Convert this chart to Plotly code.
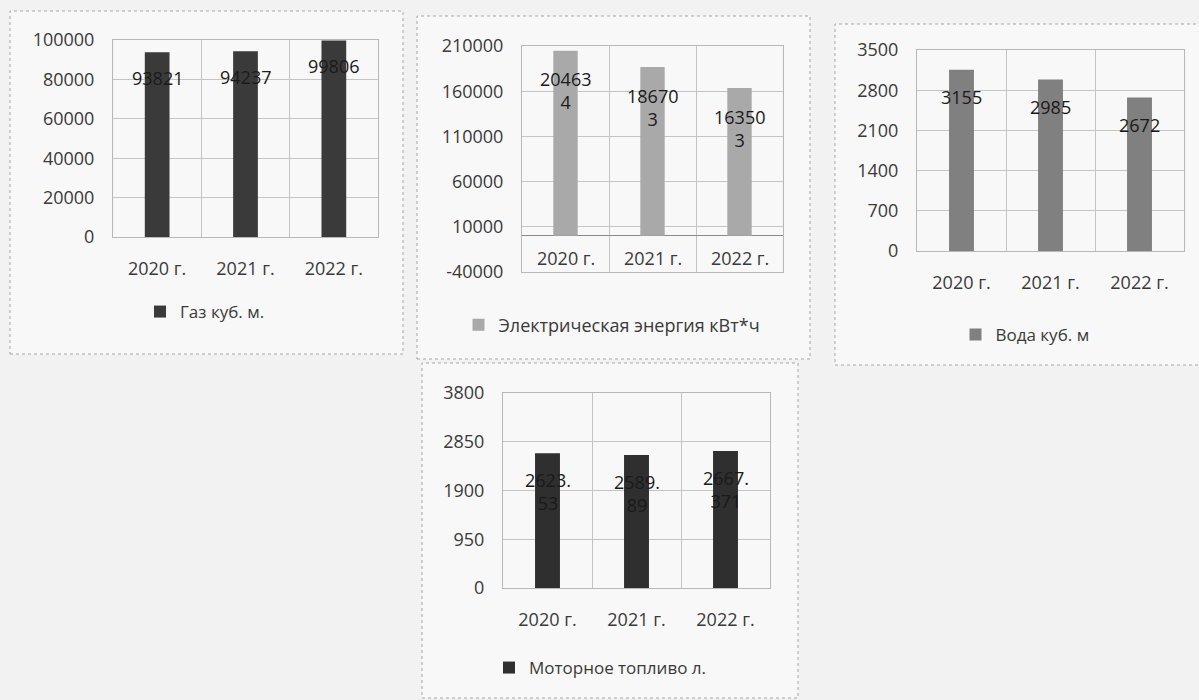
import plotly.graph_objects as go

years = ["2020 г.", "2021 г.", "2022 г."]
gas = [93821, 94237, 99806]
electric = [204634, 186703, 163503]
water = [3155, 2985, 2672]
fuel = [2623.53, 2589.89, 2667.371]

names = ["Газ куб. м.", "Электрическая энергия кВт*ч", "Вода куб. м", "Моторное топливо л."]
colors = ["#3a3a3a", "#a9a9a9", "#808080", "#2f2f2f"]

W, H = 1199, 700
FONT = "'Open Sans', 'Noto Sans', sans-serif"
TXT = "#3a3a3a"

def fx(px):
    return px / W

def fy(py):
    return 1 - py / H

# plot-area boxes in pixels: (x0, x1, ytop, ybottom)
boxes = [(113, 378, 40, 237), (522, 783, 46, 272), (917, 1184, 50, 251), (503, 770, 393, 588)]
panels = [(10, 403, 11, 354), (417, 810, 16, 359), (835, 1205, 24, 365), (422, 798, 363, 698)]
legend_pos = [(205, 312), (612, 325), (1025, 335), (600, 668)]
legend_size = [17, 18, 17, 17]
yranges = [(0, 100000, 20000), (-40000, 210000, 50000), (0, 3500, 700), (0, 3800, 950)]
label_shift = [-26, -40, -27, -38]

fig = go.Figure()
series = [gas, electric, water, fuel]

def fmt(v):
    s = str(v)
    if len(s) > 5:
        s = s[:5] + "<br>" + s[5:]
    return s

layout = dict(
    width=W, height=H, margin=dict(l=0, r=0, t=0, b=0, autoexpand=False),
    paper_bgcolor="#f2f2f2", plot_bgcolor="#f8f8f8",
    font=dict(family=FONT, size=18, color=TXT),
    showlegend=True,
)
shapes = []
annotations = []
for i in range(4):
    n = "" if i == 0 else str(i + 1)
    x0, x1, yt, yb = boxes[i]
    lo, hi, step = yranges[i]
    tickvals = list(range(lo, hi + 1, step))
    leg = "legend" if i == 0 else f"legend{i+1}"
    inside_labels = (i == 1)
    fig.add_trace(go.Bar(
        x=years, y=series[i], name=names[i], marker=dict(color=colors[i], line=dict(width=0)),
        xaxis="x" + n, yaxis="y" + n, legend=leg, width=0.28,
    ))
    layout["xaxis" + n] = dict(
        domain=[fx(x0), fx(x1)], anchor="y" + n, type="category", automargin=False,
        tickson="boundaries", showgrid=True, gridcolor="#c4c4c4", gridwidth=1,
        showline=True, linecolor="#b8b8b8", mirror=True, ticks="",
        tickfont=dict(size=18, color=TXT), ticklabelstandoff=15,
        showticklabels=not inside_labels,
    )
    layout["yaxis" + n] = dict(
        domain=[fy(yb), fy(yt)], anchor="x" + n, range=[lo, hi], automargin=False,
        tickmode="array", tickvals=tickvals, ticktext=[str(t) for t in tickvals],
        showgrid=True, gridcolor="#c4c4c4", gridwidth=1,
        showline=True, linecolor="#b8b8b8", mirror=True, ticks="",
        zeroline=(i == 1), zerolinecolor="#8a8a8a", zerolinewidth=1,
        tickfont=dict(size=18, color=TXT), ticklabelstandoff=14,
    )
    if inside_labels:
        # category labels sit inside the plot, at the bottom (low position)
        for yr in years:
            annotations.append(dict(
                x=yr, y=lo, xref="x" + n, yref="y" + n, text=yr, showarrow=False,
                xanchor="center", yanchor="bottom", yshift=0,
                font=dict(size=18, color=TXT),
            ))
    lx, ly = legend_pos[i]
    layout[leg] = dict(
        x=fx(lx), y=fy(ly), xanchor="center", yanchor="middle",
        bgcolor="rgba(0,0,0,0)", font=dict(size=legend_size[i], color=TXT), itemwidth=30,
    )
    px0, px1, py0, py1 = panels[i]
    shapes.append(dict(
        type="rect", xref="paper", yref="paper", layer="below",
        x0=fx(px0), x1=fx(px1), y0=fy(py1), y1=fy(py0),
        line=dict(color="#a8a8a8", width=1, dash="dot"), fillcolor="#f8f8f8",
    ))
    for yr, v in zip(years, series[i]):
        annotations.append(dict(
            x=yr, y=v, xref="x" + n, yref="y" + n, text=fmt(v), showarrow=False,
            xanchor="center", yanchor="middle", yshift=label_shift[i],
            font=dict(size=18, color="#1a1a1a"),
        ))

layout["shapes"] = shapes
layout["annotations"] = annotations
fig.update_layout(**layout)
fig.write_html("out.html", config={"displayModeBar": False},
               post_script="document.body.style.margin='0px';")
